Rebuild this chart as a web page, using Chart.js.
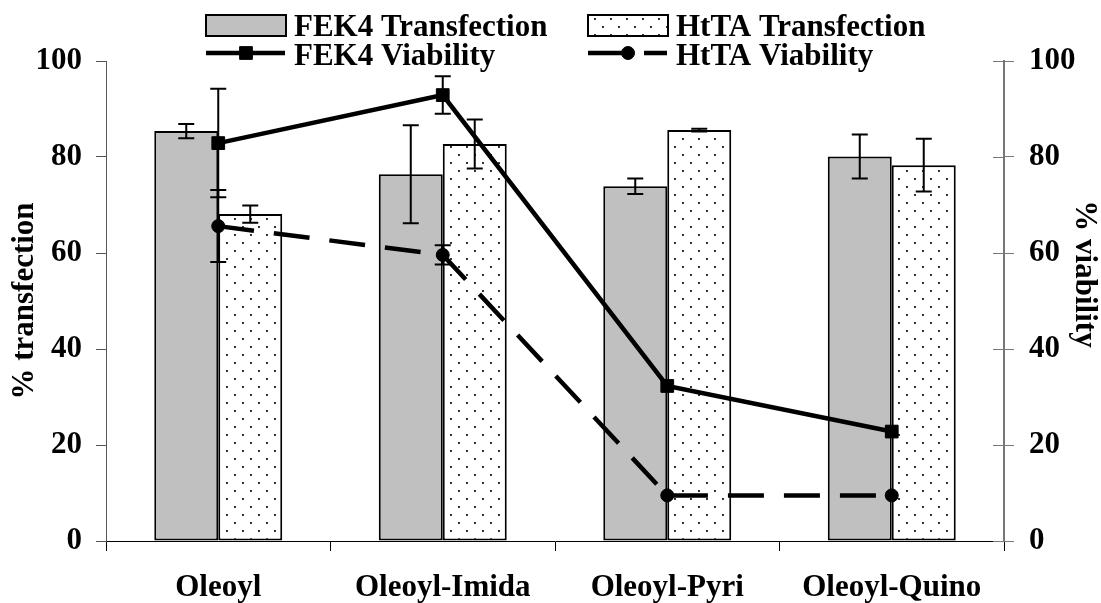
<!DOCTYPE html>
<html>
<head>
<meta charset="utf-8">
<title>Transfection and viability</title>
<script src="https://cdn.jsdelivr.net/npm/chart.js@4.4.1/dist/chart.umd.min.js"></script>
<style>
  html, body { margin: 0; padding: 0; background: #fff; }
  #wrap { width: 1101px; height: 603px; }
</style>
</head>
<body>
<div id="wrap"><canvas id="lipidChart"></canvas></div>
<script>
// lipids tested, one group of bars per lipid
const categories = ['Oleoyl', 'Oleoyl-Imida', 'Oleoyl-Pyri', 'Oleoyl-Quino'];

// % transfection (left axis) with +/- error
const fek4Transfection = [85.4, 76.4, 73.9, 80.1];
const fek4TransfectionErr = [1.5, 10.2, 1.6, 4.6];
const htaTransfection = [68.1, 82.7, 85.6, 78.3];
const htaTransfectionErr = [1.8, 5.1, 0.3, 5.5];

// % viability (right axis) with +/- error
const fek4Viability = [82.9, 92.9, 32.3, 22.8];
const fek4ViabilityErr = [11.3, 3.9, 0, 0];
const htaViability = [65.6, 59.6, 9.5, 9.5];
const htaViabilityErr = [7.5, 2.0, 0, 0];

const yTicks = [0, 20, 40, 60, 80, 100];

const FONT = "'Liberation Serif', 'Times New Roman', serif";
Chart.defaults.font.family = FONT;
Chart.defaults.color = '#000';

// white fill with small staggered dots
function dotPattern() {
    const c = document.createElement('canvas');
    c.width = 16;
    c.height = 16;
    const g = c.getContext('2d');
    g.fillStyle = '#fff';
    g.fillRect(0, 0, 16, 16);
    g.fillStyle = '#333';
    g.fillRect(2, 2, 2, 2);
    g.fillRect(10, 10, 2, 2);
    return g.createPattern(c, 'repeat');
}

// vertical error bars with caps, read from dataset.errors
const errorBars = {
    id: 'errorBars',
    afterDatasetsDraw(chart) {
        const ctx = chart.ctx;
        chart.data.datasets.forEach((ds, i) => {
            if (!ds.errors) return;
            const meta = chart.getDatasetMeta(i);
            const scale = chart.scales[meta.yAxisID];
            ctx.save();
            ctx.strokeStyle = '#000';
            ctx.lineWidth = 2;
            meta.data.forEach((el, j) => {
                const e = ds.errors[j];
                if (!e) return;
                const x = el.x;
                const top = scale.getPixelForValue(ds.data[j] + e);
                const bot = scale.getPixelForValue(ds.data[j] - e);
                ctx.beginPath();
                ctx.moveTo(x, top); ctx.lineTo(x, bot);
                ctx.moveTo(x - 8, top); ctx.lineTo(x + 8, top);
                ctx.moveTo(x - 8, bot); ctx.lineTo(x + 8, bot);
                ctx.stroke();
            });
            ctx.restore();
        });
    },
    afterDraw(chart) {
        const s = chart.scales.y1;
        const ctx = chart.ctx;
        ctx.save();
        // right axis ticks cross the axis line
        ctx.strokeStyle = '#777';
        ctx.lineWidth = 1;
        s.ticks.forEach(t => {
            const y = Math.round(s.getPixelForValue(t.value)) + 0.5;
            ctx.beginPath();
            ctx.moveTo(s.left - 11, y);
            ctx.lineTo(s.left, y);
            ctx.stroke();
        });
        // right axis title, turned to read downwards, sitting a bit above centre
        ctx.translate(s.right - 17, (s.top + s.bottom) / 2 - 27);
        ctx.rotate(Math.PI / 2);
        ctx.font = 'bold 31px ' + FONT;
        ctx.fillStyle = '#000';
        ctx.textAlign = 'center';
        ctx.textBaseline = 'middle';
        ctx.fillText('% viability', 0, 0);
        ctx.restore();
    }
};

// two-column legend above the plot
const gridLegend = {
    id: 'gridLegend',
    afterDraw(chart) {
        const ctx = chart.ctx;
        const colX = [206, 588];
        const rowBase = [36, 65];
        const slots = [[0, 0, 0], [1, 1, 0], [2, 0, 1], [3, 1, 1]];
        ctx.save();
        ctx.font = 'bold 31px ' + FONT;
        ctx.textBaseline = 'alphabetic';
        ctx.textAlign = 'left';
        slots.forEach(([di, col, row]) => {
            const ds = chart.data.datasets[di];
            const x = colX[col];
            const base = rowBase[row];
            if (ds.type === 'line') {
                const y = base - 12;
                ctx.strokeStyle = '#000';
                ctx.lineWidth = ds.borderWidth;
                ctx.setLineDash(ds.borderDash || []);
                ctx.beginPath();
                ctx.moveTo(x, y);
                ctx.lineTo(x + 79, y);
                ctx.stroke();
                ctx.setLineDash([]);
                ctx.fillStyle = '#000';
                ctx.lineWidth = 1;
                Chart.helpers.drawPoint(ctx, {
                    pointStyle: ds.pointStyle, radius: ds.pointRadius, rotation: 0, borderWidth: 1
                }, x + 40, y);
            } else {
                ctx.fillStyle = ds.backgroundColor;
                ctx.fillRect(x, base - 21, 80, 21);
                ctx.strokeStyle = '#000';
                ctx.lineWidth = 2;
                ctx.strokeRect(x, base - 21, 80, 21);
            }
            ctx.fillStyle = '#000';
            ctx.fillText(ds.label, x + 88, base);
        });
        ctx.restore();
    }
};

const ctx = document.getElementById('lipidChart').getContext('2d');
const dots = dotPattern();

const axisFont = { size: 31, weight: 'bold', family: FONT };

new Chart(ctx, {
    type: 'bar',
    data: {
        labels: categories,
        datasets: [
            {
                label: 'FEK4 Transfection',
                data: fek4Transfection,
                errors: fek4TransfectionErr,
                backgroundColor: '#c0c0c0',
                borderColor: '#000',
                borderWidth: 2,
                borderSkipped: false,
                yAxisID: 'y',
                order: 2
            },
            {
                label: 'HtTA Transfection',
                data: htaTransfection,
                errors: htaTransfectionErr,
                backgroundColor: dots,
                borderColor: '#000',
                borderWidth: 2,
                borderSkipped: false,
                yAxisID: 'y',
                order: 2
            },
            {
                type: 'line',
                label: 'FEK4 Viability',
                data: fek4Viability,
                errors: fek4ViabilityErr,
                borderColor: '#000',
                borderWidth: 4.5,
                pointStyle: 'rect',
                pointRadius: 9,
                pointBackgroundColor: '#000',
                pointBorderColor: '#000',
                pointBorderWidth: 1,
                tension: 0,
                yAxisID: 'y1',
                order: 0
            },
            {
                type: 'line',
                label: 'HtTA Viability',
                data: htaViability,
                errors: htaViabilityErr,
                borderColor: '#000',
                borderWidth: 4.5,
                borderDash: [36, 20],
                pointStyle: 'circle',
                pointRadius: 6.5,
                pointBackgroundColor: '#000',
                pointBorderColor: '#000',
                pointBorderWidth: 1,
                tension: 0,
                yAxisID: 'y1',
                order: 1
            }
        ]
    },
    options: {
        responsive: true,
        maintainAspectRatio: false,
        devicePixelRatio: 1,
        animation: false,
        layout: { padding: { top: 61, left: 0, right: 0, bottom: 0 } },
        datasets: {
            bar: { categoryPercentage: 0.57, barPercentage: 1.0 }
        },
        plugins: {
            legend: { display: false },
            tooltip: { enabled: false }
        },
        scales: {
            x: {
                grid: { drawOnChartArea: false, drawTicks: true, tickLength: 10, color: '#000', offset: true },
                border: { color: '#000', width: 1 },
                ticks: { font: axisFont, color: '#000', padding: 18, maxRotation: 0, autoSkip: false },
                afterFit(s) { s.height = 62; }
            },
            y: {
                position: 'left',
                min: 0,
                max: 100,
                afterBuildTicks(s) { s.ticks = yTicks.map(v => ({ value: v })); },
                ticks: { font: axisFont, color: '#000', padding: 14 },
                grid: { drawOnChartArea: false, tickLength: 10, color: '#555' },
                border: { color: '#555', width: 1 },
                title: {
                    display: true,
                    text: '% transfection',
                    font: { size: 31, weight: 'bold', family: FONT },
                    color: '#000',
                    padding: { top: 6, bottom: 0 }
                },
                afterFit(s) { s.width = 106; }
            },
            y1: {
                position: 'right',
                min: 0,
                max: 100,
                afterBuildTicks(s) { s.ticks = yTicks.map(v => ({ value: v })); },
                ticks: { font: axisFont, color: '#000', padding: 15 },
                grid: { drawOnChartArea: false, tickLength: 10, color: '#777' },
                border: { color: '#777', width: 2 },
                title: { display: false },
                afterFit(s) { s.width = 97; }
            }
        }
    },
    plugins: [errorBars, gridLegend]
});
</script>
</body>
</html>
